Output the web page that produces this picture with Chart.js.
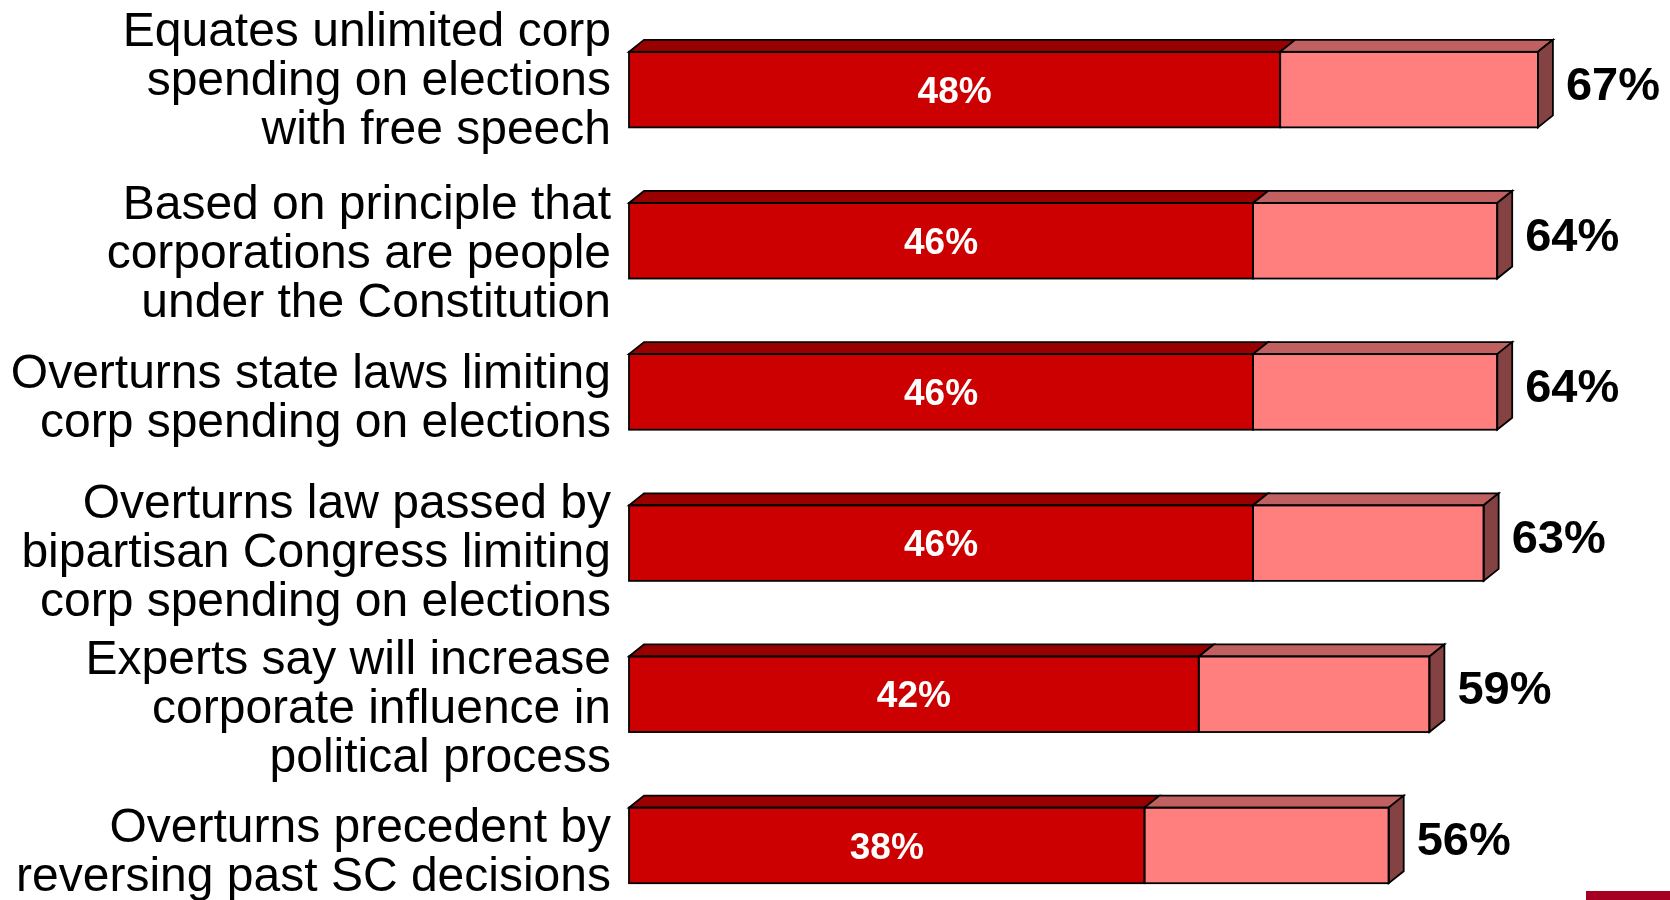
<!DOCTYPE html>
<html>
<head>
<meta charset="utf-8">
<script src="https://cdn.jsdelivr.net/npm/chart.js@4/dist/chart.umd.min.js"></script>
<style>
  html, body { margin: 0; padding: 0; background: #fff; overflow: hidden; }
  #wrap { position: relative; width: 1670px; height: 900px; overflow: hidden; }
  #corner { position: absolute; left: 1586px; top: 891px; width: 84px; height: 9px; background: #a50021; }
</style>
</head>
<body>
<div id="wrap">
  <canvas id="chart" width="1670" height="940"></canvas>
  <div id="corner"></div>
</div>
<script>
const categories = [
  ['Equates unlimited corp', 'spending on elections', 'with free speech'],
  ['Based on principle that', 'corporations are people', 'under the Constitution'],
  ['Overturns state laws limiting', 'corp spending on elections'],
  ['Overturns law passed by', 'bipartisan Congress limiting', 'corp spending on elections'],
  ['Experts say will increase', 'corporate influence in', 'political process'],
  ['Overturns precedent by', 'reversing past SC decisions']
];
const strongShare = [48, 46, 46, 46, 42, 38];
const totalShare = [67, 64, 64, 63, 59, 56];
const restShare = totalShare.map((t, i) => t - strongShare[i]);

// small vertical tweaks for the multi-line category text
const labelNudge = [-12, 10, 3, 7, 12, 4];

const FONT = "'Liberation Sans', Arial, sans-serif";
const DEPTH_X = 15;
const DEPTH_Y = 12;

function poly(ctx, pts, fill) {
  ctx.beginPath();
  ctx.moveTo(pts[0][0], pts[0][1]);
  for (let k = 1; k < pts.length; k++) ctx.lineTo(pts[k][0], pts[k][1]);
  ctx.closePath();
  ctx.fillStyle = fill;
  ctx.fill();
  ctx.stroke();
}

// top faces, right side face and outlines for the stacked bars
const boxes3d = {
  id: 'boxes3d',
  afterDatasetsDraw(chart) {
    const ctx = chart.ctx;
    const front = chart.getDatasetMeta(0).data;
    const back = chart.getDatasetMeta(1).data;
    ctx.save();
    ctx.strokeStyle = '#000';
    ctx.lineWidth = 1.8;
    ctx.lineJoin = 'miter';
    front.forEach((a, i) => {
      const b = back[i];
      const top = a.y - a.height / 2;
      const bottom = a.y + a.height / 2;
      const x0 = a.base, x1 = a.x, x2 = b.x;
      poly(ctx, [[x0, top], [x1, top], [x1 + DEPTH_X, top - DEPTH_Y], [x0 + DEPTH_X, top - DEPTH_Y]], '#990000');
      poly(ctx, [[x1, top], [x2, top], [x2 + DEPTH_X, top - DEPTH_Y], [x1 + DEPTH_X, top - DEPTH_Y]], '#c06060');
      poly(ctx, [[x2, top], [x2 + DEPTH_X, top - DEPTH_Y], [x2 + DEPTH_X, bottom - DEPTH_Y], [x2, bottom]], '#844242');
      ctx.strokeRect(x0, top, x1 - x0, bottom - top);
      ctx.strokeRect(x1, top, x2 - x1, bottom - top);
    });
    ctx.restore();
  }
};

const textLabels = {
  id: 'textLabels',
  afterDraw(chart) {
    const ctx = chart.ctx;
    const front = chart.getDatasetMeta(0).data;
    const back = chart.getDatasetMeta(1).data;
    const left = chart.chartArea.left;
    ctx.save();

    // category names, right aligned against the bars
    const catSize = 48;
    const lineGap = 49;
    ctx.font = catSize + 'px ' + FONT;
    ctx.fillStyle = '#000';
    ctx.textAlign = 'right';
    ctx.textBaseline = 'alphabetic';
    categories.forEach((lines, i) => {
      const mid = front[i].y + labelNudge[i];
      const first = mid - (lines.length - 1) * lineGap / 2;
      lines.forEach((line, k) => {
        ctx.fillText(line, left - 18, first + k * lineGap + catSize * 0.358);
      });
    });

    // values inside the strong segment
    ctx.font = 'bold 37px ' + FONT;
    ctx.fillStyle = '#fff';
    ctx.textAlign = 'center';
    ctx.textBaseline = 'middle';
    front.forEach((a, i) => {
      ctx.fillText(strongShare[i] + '%', (a.base + a.x) / 2, a.y + 3);
    });

    // totals at the end of each bar
    ctx.font = 'bold 47px ' + FONT;
    ctx.fillStyle = '#000';
    ctx.textAlign = 'left';
    back.forEach((b, i) => {
      ctx.fillText(totalShare[i] + '%', b.x + 28, b.y - 3);
    });
    ctx.restore();
  }
};

new Chart(document.getElementById('chart'), {
  type: 'bar',
  data: {
    labels: categories,
    datasets: [
      {
        label: 'Strongly',
        data: strongShare,
        backgroundColor: '#cc0000',
        borderWidth: 0,
        barPercentage: 0.5,
        categoryPercentage: 1
      },
      {
        label: 'Somewhat',
        data: restShare,
        backgroundColor: '#ff7f7f',
        borderWidth: 0,
        barPercentage: 0.5,
        categoryPercentage: 1
      }
    ]
  },
  options: {
    indexAxis: 'y',
    responsive: false,
    animation: false,
    layout: { padding: { left: 629, right: 10, top: 14, bottom: 19 } },
    plugins: {
      legend: { display: false },
      tooltip: { enabled: false }
    },
    scales: {
      x: { stacked: true, min: 0, max: 76, display: false },
      y: { stacked: true, display: false }
    }
  },
  plugins: [boxes3d, textLabels]
});
</script>
</body>
</html>
